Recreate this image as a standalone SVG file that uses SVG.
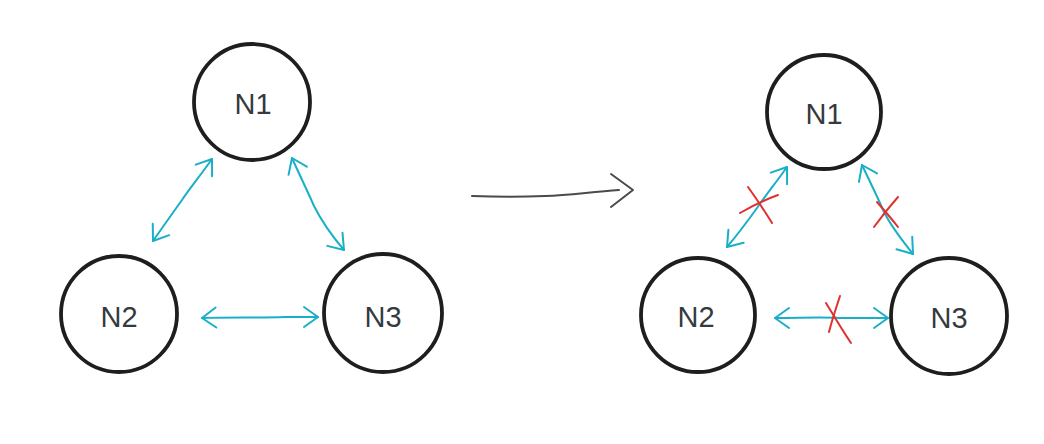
<svg xmlns="http://www.w3.org/2000/svg" width="1044" height="444" viewBox="0 0 1044 444">
  <style>
    .node circle { fill: none; stroke: #1e1e1e; stroke-width: 3.8; }
    .node text { font-family: "Liberation Sans", Arial, sans-serif; font-size: 29px; fill: #343a40; text-anchor: middle; }
    .link { fill: none; stroke: #1aafc8; stroke-width: 2; stroke-linecap: round; stroke-linejoin: round; marker-start: url(#head); marker-end: url(#head); }
    .cross { fill: none; stroke: #e03131; stroke-width: 2; stroke-linecap: round; }
    .step { fill: none; stroke: #4a4a4a; stroke-width: 2; stroke-linecap: round; stroke-linejoin: round; }
  </style>
  <defs>
    <marker id="head" viewBox="0 0 20 20" refX="18" refY="10" markerWidth="20" markerHeight="20" markerUnits="userSpaceOnUse" orient="auto-start-reverse" overflow="visible">
      <path d="M4,0 L18,10 L4,20" fill="none" stroke="#1aafc8" stroke-width="2" stroke-linecap="round" stroke-linejoin="round"/>
    </marker>
  </defs>

  <rect width="1044" height="444" fill="#ffffff"/>

  <!-- before: fully connected -->
  <g id="left-n1" class="node"><circle cx="252" cy="102" r="58"/><text x="253" y="114">N1</text></g>
  <g id="left-n2" class="node"><circle cx="119" cy="314" r="58"/><text x="119" y="327">N2</text></g>
  <g id="left-n3" class="node"><circle cx="383" cy="313" r="59"/><text x="383" y="327">N3</text></g>

  <g id="left-links">
    <path class="link" d="M212,159 C200,176 190,188 182,200 C172,214 162,228 153,241"/>
    <path class="link" d="M292,158 C300,176 308,192 314,206 C322,222 332,236 344,250"/>
    <path class="link" d="M202,318 C230,317 260,318 285,317 C300,317 310,317 318,317"/>
  </g>

  <!-- transition arrow -->
  <g id="transition">
    <path class="step" d="M472,196 C500,197 520,197 545,196 C570,195 590,192 619,190"/>
    <path class="step" d="M611,174 L633,190 L611,207"/>
  </g>

  <!-- after: every link cut -->
  <g id="right-n1" class="node"><circle cx="824" cy="112" r="57"/><text x="824" y="124">N1</text></g>
  <g id="right-n2" class="node"><circle cx="698" cy="315" r="57"/><text x="696" y="327">N2</text></g>
  <g id="right-n3" class="node"><circle cx="949" cy="316" r="58"/><text x="949" y="328">N3</text></g>

  <g id="right-links">
    <path class="link" d="M787,167 C775,184 765,196 757,208 C747,222 738,234 727,247"/>
    <path class="link" d="M862,165 C872,186 878,198 884,212 C892,228 902,240 913,254"/>
    <path class="link" d="M775,318 C800,318 820,317 840,318 C860,318 875,318 888,318"/>
  </g>

  <g id="cuts">
    <path class="cross" d="M740,213 C752,206 764,200 778,195"/>
    <path class="cross" d="M748,187 C756,198 764,210 772,223"/>
    <path class="cross" d="M874,227 C882,216 890,206 898,197"/>
    <path class="cross" d="M877,202 C884,210 891,218 898,227"/>
    <path class="cross" d="M840,296 C836,308 832,320 829,332"/>
    <path class="cross" d="M826,303 C834,316 842,330 851,343"/>
  </g>
</svg>
